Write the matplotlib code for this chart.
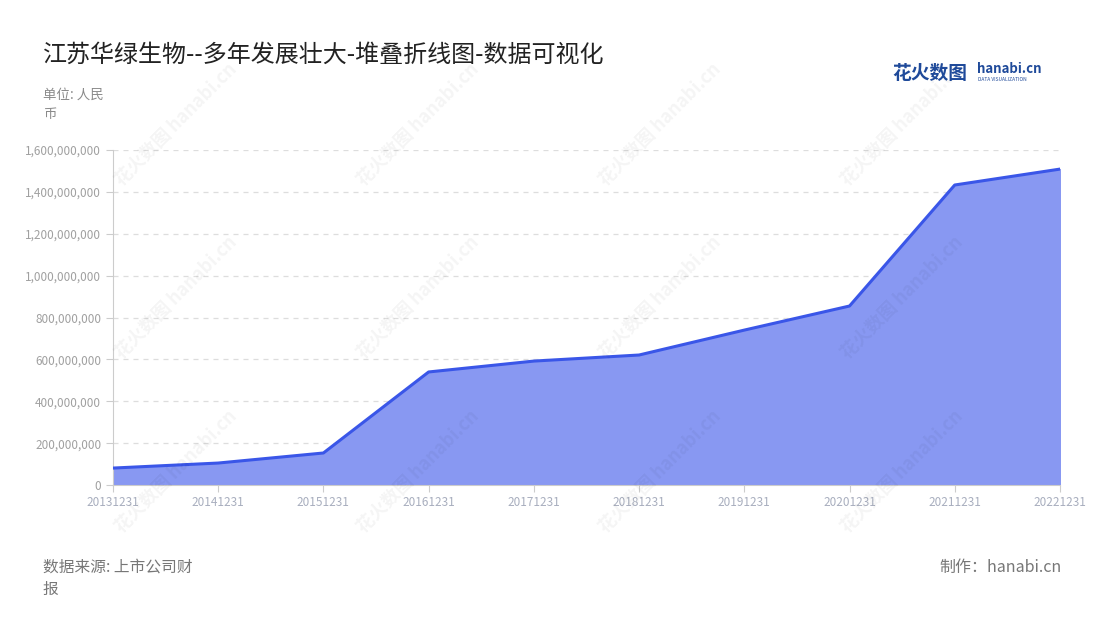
import matplotlib
matplotlib.use('Agg')
import matplotlib.pyplot as plt
from matplotlib.ticker import FuncFormatter

plt.rcParams['font.family'] = ['Noto Sans CJK SC', 'DejaVu Sans']

dates = ['20131231', '20141231', '20151231', '20161231', '20171231',
         '20181231', '20191231', '20201231', '20211231', '20221231']
values = [81e6, 105e6, 153e6, 540e6, 592e6, 621e6, 740e6, 855e6, 1433e6, 1509e6]

fig = plt.figure(figsize=(11, 6.2), dpi=100)
ax = fig.add_axes([0.1027, 0.2177, 0.8609, 0.5403])

x = list(range(len(dates)))
ax.fill_between(x, values, 0, color='#8898F2', zorder=2)
ax.plot(x, values, color='#3A56E8', lw=2.2, zorder=3)

ax.set_xlim(0, len(dates) - 1)
ax.set_ylim(0, 1.6e9)
ax.set_yticks([i * 2e8 for i in range(9)])
ax.yaxis.set_major_formatter(FuncFormatter(lambda v, p: f'{int(v):,}'))
ax.set_xticks(x)
ax.set_xticklabels(dates)
ax.grid(axis='y', color='#DDDDDD', ls=(0, (4, 4)), lw=0.9, zorder=1)
for s in ['top', 'right']:
    ax.spines[s].set_visible(False)
ax.spines['left'].set_color('#CCCCCC')
ax.spines['bottom'].set_color('#CCCCCC')
ax.tick_params(axis='both', colors='#CCCCCC', length=5, labelsize=8.5,
               labelcolor='#A0A0A0')
ax.tick_params(axis='x', labelcolor='#A8AEBE', pad=3)

# watermarks
for wx in [0.16, 0.38, 0.60, 0.82]:
    for wy in [0.80, 0.52, 0.24]:
        fig.text(wx, wy, '花火数图 hanabi.cn', rotation=45, fontsize=13,
                 color='#000000', alpha=0.045, ha='center', va='center',
                 fontweight='bold', zorder=0)

fig.text(0.039, 0.911, '江苏华绿生物--多年发展壮大-堆叠折线图-数据可视化',
         fontsize=17.3, color='#222222', va='center')
fig.text(0.039, 0.832, '单位: 人民\n币', fontsize=9.7, color='#8A8A8A',
         va='center', linespacing=1.5)
fig.text(0.811, 0.882, '花火数图', fontsize=13.5, color='#1F4A9A',
         fontweight='bold', va='center')
fig.text(0.888, 0.889, 'hanabi.cn', fontsize=9.5, color='#1F4A9A',
         fontweight='bold', va='center')
fig.text(0.889, 0.872, 'DATA VISUALIZATION', fontsize=3.5, color='#1F4A9A',
         va='center')
fig.text(0.039, 0.068, '数据来源: 上市公司财\n报', fontsize=11.3, color='#777777',
         va='center', linespacing=1.4)
fig.text(0.965, 0.085, '制作：hanabi.cn', fontsize=11.5, color='#777777',
         va='center', ha='right')

fig.savefig('out.png', dpi=100)
